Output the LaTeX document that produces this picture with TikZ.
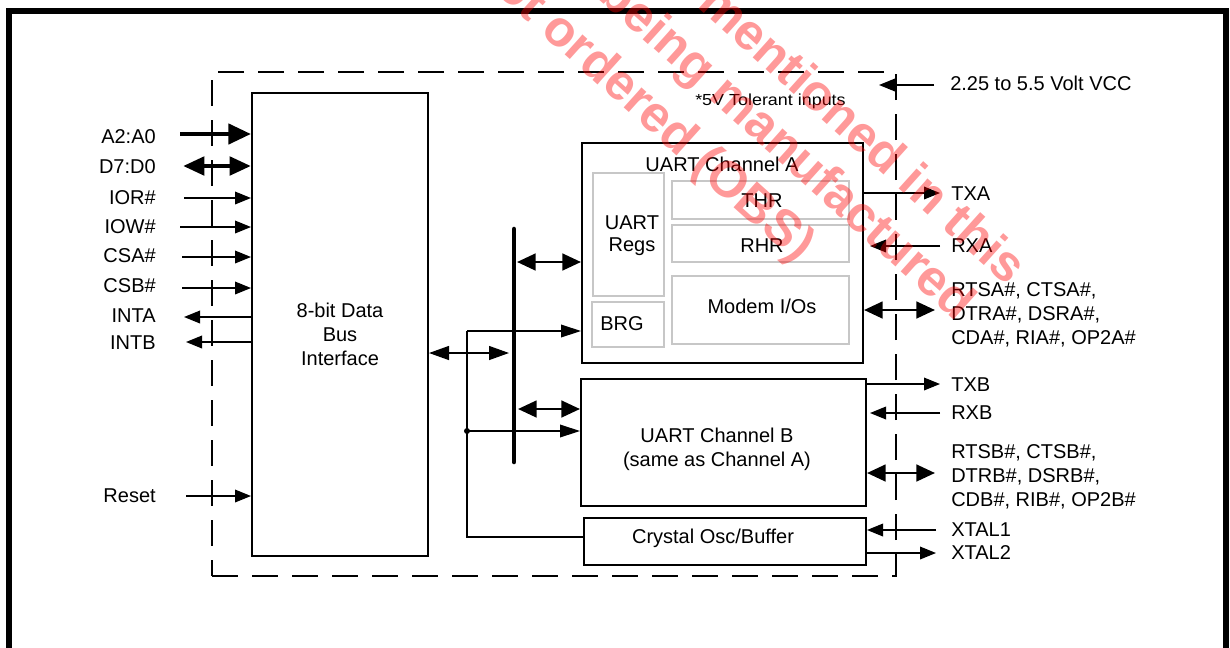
\documentclass[tikz,border=0pt]{standalone}
\usepackage{fontspec}
\setmainfont{Liberation Sans}
\usetikzlibrary{arrows.meta}
\begin{document}
\begin{tikzpicture}[x=0.75pt,y=-0.75pt,
  every node/.style={inner sep=0pt, font=\fontsize{15}{18}\selectfont},
  box/.style={draw, line width=1.5pt},
  gbox/.style={draw=black!22, line width=1.5pt},
  dashbox/.style={draw, line width=1.1pt, dash pattern=on 19.5pt off 10.5pt},
  frameline/.style={line width=4.5pt},
  sig/.style={line width=1pt, -{Triangle[length=12pt,width=9.5pt]}},
  sigl/.style={line width=1pt, -{Triangle[length=15pt,width=9.5pt]}},
  fatarr/.style={line width=3.4pt, -{Triangle[length=17pt,width=15pt]}},
  fatdbl/.style={line width=3.6pt, {Triangle[length=16pt,width=13.5pt]}-{Triangle[length=16pt,width=13.5pt]}},
  meddbl/.style={line width=2pt, {Triangle[length=14pt,width=12.5pt]}-{Triangle[length=14pt,width=12.5pt]}},
  thindbl/.style={line width=1pt, {Triangle[length=15pt,width=10.5pt]}-{Triangle[length=15pt,width=10.5pt]}},
  wire/.style={line width=1pt},
  busbar/.style={line width=3.4pt, line cap=round},
  wm/.style={rotate=-42, anchor=base east, text=red, text opacity=0.4, font=\fontsize{38}{44}\selectfont\bfseries},
  lab/.style={anchor=base west},
  labr/.style={anchor=base east},
  txt/.style={anchor=base},
]
\useasboundingbox (0,0) rectangle (1230,647);
\clip (0,0) rectangle (1230,647);

% outer frame
\draw[frameline] (9,660) -- (9,11) -- (1226,11) -- (1226,660);

% chip boundary
\node[dashbox, minimum width=513pt, minimum height=378pt] (chip) at (554,324) {};

% blocks
\node[box, minimum width=132pt, minimum height=347.25pt] (bif) at (340,324.5) {};
\node[align=center] (bifT) at (340,334) {8-bit Data\\Bus\\Interface};

\node[box, minimum width=210.75pt, minimum height=165pt] (chA) at (722.5,253) {};
\node[txt] (chAT) at (722,171) {UART Channel A};
\node[gbox, minimum width=53.25pt, minimum height=92.25pt] (regs) at (628.5,234.5) {};
\node[align=center, font=\fontsize{15}{16.5}\selectfont] (regsT) at (632,236) {UART\\Regs};
\node[gbox, minimum width=54pt, minimum height=33.75pt] (brg) at (628,324.5) {};
\node[txt] (brgT) at (622,330) {BRG};
\node[gbox, minimum width=132.75pt, minimum height=28.5pt] (thr) at (760.5,200) {};
\node[txt] (thrT) at (762,207) {THR};
\node[gbox, minimum width=132.75pt, minimum height=27.75pt] (rhr) at (760.5,243.5) {};
\node[txt] (rhrT) at (762,252) {RHR};
\node[gbox, minimum width=132.75pt, minimum height=51pt] (modem) at (760.5,310) {};
\node[txt] (modemT) at (762,313) {Modem I/Os};

\node[box, minimum width=213.75pt, minimum height=95.25pt] (chB) at (723.5,442.5) {};
\node[align=center] (chBT) at (717,449) {UART Channel B\\(same as Channel A)};

\node[box, minimum width=211.5pt, minimum height=35.25pt] (xtal) at (725,541.5) {};
\node[txt] (xtalT) at (713,543) {Crystal Osc/Buffer};

% left pins
\node[labr] (lA2) at (156,143) {A2:A0};
\node[labr] (lD7) at (156,173) {D7:D0};
\node[labr] (lIOR) at (156,204) {IOR\#};
\node[labr] (lIOW) at (156,233) {IOW\#};
\node[labr] (lCSA) at (156,262) {CSA\#};
\node[labr] (lCSB) at (156,292) {CSB\#};
\node[labr] (lINTA) at (156,322) {INTA};
\node[labr] (lINTB) at (156,349) {INTB};
\node[labr] (lRST) at (156,502) {Reset};

\coordinate (pA2) at (180,134);
\coordinate (pD7) at (183,166);
\coordinate (pIOR) at (184,198);
\coordinate (pIOW) at (180,227);
\coordinate (pCSA) at (182,257);
\coordinate (pCSB) at (182,288);
\coordinate (pINTA) at (184,317);
\coordinate (pINTB) at (186,342);
\coordinate (pRST) at (186,496);

\draw[fatarr] (pA2) -- (pA2 -| bif.west);
\draw[fatdbl] (pD7) -- (pD7 -| bif.west);
\draw[sig] (pIOR) -- (pIOR -| bif.west);
\draw[sig] (pIOW) -- (pIOW -| bif.west);
\draw[sig] (pCSA) -- (pCSA -| bif.west);
\draw[sig] (pCSB) -- (pCSB -| bif.west);
\draw[sig] (pINTA -| bif.west) -- (pINTA);
\draw[sig] (pINTB -| bif.west) -- (pINTB);
\draw[sig] (pRST) -- (pRST -| bif.west);

% internal bus
\coordinate (busT) at (514,229);
\coordinate (busB) at (514,462);
\draw[busbar] (busT) -- (busB);
\coordinate (pIB) at (509,353);
\draw[thindbl] (pIB -| bif.east) -- (pIB);
\coordinate (pBA) at (517,262);
\draw[meddbl] (pBA) -- (pBA -| chA.west);
\coordinate (pBB) at (518,409);
\draw[meddbl] (pBB) -- (pBB -| chB.west);

% clock distribution
\coordinate (jTop) at (467,331);
\coordinate (jBot) at (467,537);
\node[circle, fill, minimum size=4.5pt] (dot) at (467,431) {};
\draw[sigl] (jTop) -- (jTop -| chA.west);
\draw[sigl] (dot.center) -- (dot.center -| chB.west);
\draw[wire] (jTop) -- (jBot) -- (jBot -| xtal.west);

% right pins
\coordinate (pVCC) at (934,85);
\coordinate (tVCC) at (879,85);
\draw[sig] (pVCC) -- (tVCC);
\node[lab] (lVCC) at (950,90) {2.25 to 5.5 Volt VCC};
\node[lab, font=\fontsize{12}{14}\selectfont] (tol) at (695,105) {\scalebox{1.12}[1]{*5V Tolerant inputs}};

\coordinate (pTXA) at (940,193);
\coordinate (pRXA) at (940,246);
\coordinate (tRXA) at (870,246);
\coordinate (pMA) at (935,310);
\coordinate (pTXB) at (940,384);
\coordinate (pRXB) at (940,413);
\coordinate (tRXB) at (870,413);
\coordinate (pMB) at (935,473);
\coordinate (pX1) at (936,530);
\coordinate (pX2) at (936,553);

\draw[sig] (pTXA -| chA.east) -- (pTXA);
\draw[sig] (pRXA) -- (tRXA);
\draw[meddbl] (pMA -| chA.east) -- (pMA);
\draw[sig] (pTXB -| chB.east) -- (pTXB);
\draw[sig] (pRXB) -- (tRXB);
\draw[meddbl] (pMB -| chB.east) -- (pMB);
\draw[sig] (pX1) -- (pX1 -| xtal.east);
\draw[sig] (pX2 -| xtal.east) -- (pX2);

\node[lab] (lTXA) at (951,200) {TXA};
\node[lab] (lRXA) at (951,252) {RXA};
\node[anchor=west, align=left] (lMA) at (951,314.4) {RTSA\#, CTSA\#,\\DTRA\#, DSRA\#,\\CDA\#, RIA\#, OP2A\#};
\node[lab] (lTXB) at (951,391) {TXB};
\node[lab] (lRXB) at (951,419) {RXB};
\node[anchor=west, align=left] (lMB) at (951,476.4) {RTSB\#, CTSB\#,\\DTRB\#, DSRB\#,\\CDB\#, RIB\#, OP2B\#};
\node[lab] (lX1) at (951,536) {XTAL1};
\node[lab] (lX2) at (951,559) {XTAL2};

% watermark
\node[wm] (wm1) at (1008,287) {mentioned in this};
\node[wm] (wm2) at (957,322) {being manufactured};
\node[wm] (wm3) at (797,264) {not ordered (OBS)};
\end{tikzpicture}
\end{document}
